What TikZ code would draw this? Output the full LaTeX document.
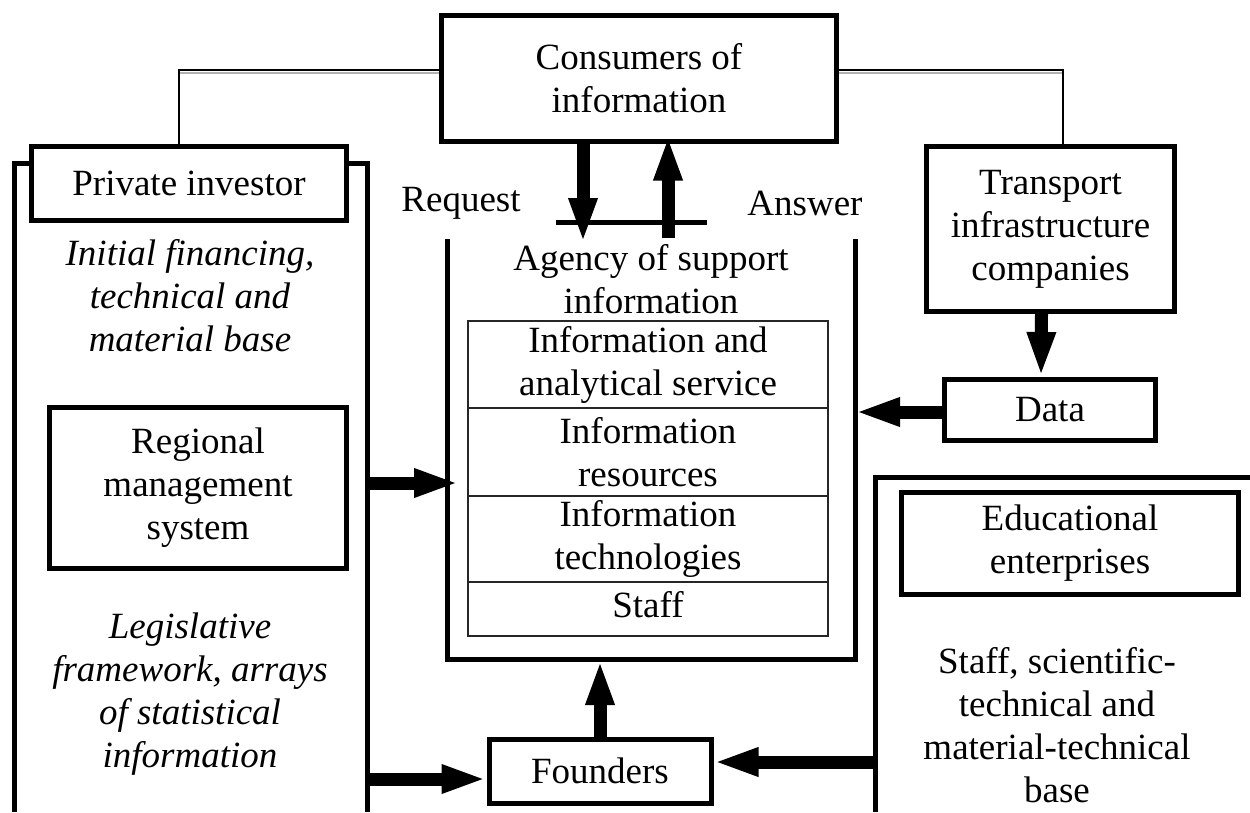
\documentclass[tikz,border=0pt]{standalone}
\usepackage{fontspec}
\setmainfont{Liberation Serif}
\usetikzlibrary{arrows.meta}
\begin{document}
\begin{tikzpicture}[x=1pt,y=-1pt,
  box/.style={draw, line width=5pt, fill=white, align=center, inner sep=0pt},
  frame/.style={line width=5pt},
  cell/.style={draw=black!85, line width=1.5pt, align=center, inner sep=0pt, minimum width=360pt},
  big/.style={-{Triangle[length=45pt,width=26pt]}, line width=13pt},
  conn/.style={line width=2pt},
  shade/.style={gray!60, line width=2pt},
  txt/.style={align=center, inner sep=0pt},
  itxt/.style={txt, font=\fontsize{37}{43}\selectfont\itshape},
  font=\fontsize{37}{43}\selectfont]
\useasboundingbox (0,0) rectangle (1250,812);

% frames
\draw[frame] (14,812) -- (14,163) -- (367,163) -- (367,812);
\draw[frame] (875,812) -- (875,477) -- (1252,477);
\draw[frame] (447,239) -- (447,659) -- (855,659) -- (855,239);

% boxes
\node[box, minimum width=395pt, minimum height=126pt] (cons) at (639,78) {Consumers of\\information};
\node[box, minimum width=315pt, minimum height=74pt] (priv) at (189,183.5) {Private investor};
\node[box, minimum width=248pt, minimum height=165pt] (trans) at (1050.5,229) {Transport\\infrastructure\\companies};
\node[box, minimum width=211pt, minimum height=61pt] (data) at (1050,410) {Data};
\node[box, minimum width=297pt, minimum height=161pt] (reg) at (198,488) {Regional\\management\\system};
\node[box, minimum width=337pt, minimum height=102pt] (edu) at (1070,543.5) {Educational\\enterprises};
\node[box, minimum width=222pt, minimum height=64pt] (found) at (600,771) {Founders};

% free texts
\node[itxt] (init) at (190,296) {Initial financing,\\technical and\\material base};
\node[itxt] (legis) at (190,694) {Legislative\\framework, arrays\\of statistical\\information};
\node[txt] (staffb) at (1057,725) {Staff, scientific-\\technical and\\material-technical\\base};
\node[txt] (req) at (461,203) {Request};
\node[txt] (ans) at (805,203) {Answer};
\node[txt] (agency) at (651,279) {Agency of support\\information};

% table
\node[cell, minimum height=87pt] (t1) at (648,364.5) {Information and\\analytical service};
\node[cell, minimum height=88pt] (t2) at (648,452) {Information\\resources};
\node[cell, minimum height=86pt] (t3) at (648,539) {Information\\technologies};
\node[cell, minimum height=54pt] (t4) at (648,609) {};
\node[txt] (t4txt) at (648,605) {Staff};

% bar under request/answer
\draw[line width=5pt] (556,222) -- (707,222);

% top connectors
\coordinate (tl) at (179,70);
\coordinate (tr) at (1063,70);
\draw[shade] ([yshift=-2.5pt]cons.west |- tl) -- ([yshift=-2.5pt]tl);
\draw[shade] ([yshift=-2.5pt]cons.east |- tr) -- ([yshift=-2.5pt]tr);
\draw[conn] (cons.west |- tl) -- (tl) -- (tl |- priv.north);
\draw[conn] (cons.east |- tr) -- (tr) -- (tr |- trans.north);

% arrows
\coordinate (rq) at (583,243);
\draw[big] (cons.south -| rq) -- (rq);
\coordinate (an) at (668,238);
\draw[big] (an) -- ([yshift=8pt]an |- cons.south);
\draw[big] ([xshift=-9pt]trans.south) -- ([xshift=-9pt]data.north);
\coordinate (agR) at (855,412);
\draw[big] (data.west |- agR) -- (agR);
\coordinate (lfR) at (367,483);
\coordinate (agL) at (459,483);
\draw[big] (lfR) -- (agL);
\coordinate (agB) at (600,660);
\draw[big] (found.north -| agB) -- (agB);
\coordinate (lfR2) at (367,779);
\draw[big] (lfR2) -- (found.west |- lfR2);
\coordinate (edL) at (875,762);
\draw[big] (edL) -- (found.east |- edL);
\end{tikzpicture}
\end{document}
